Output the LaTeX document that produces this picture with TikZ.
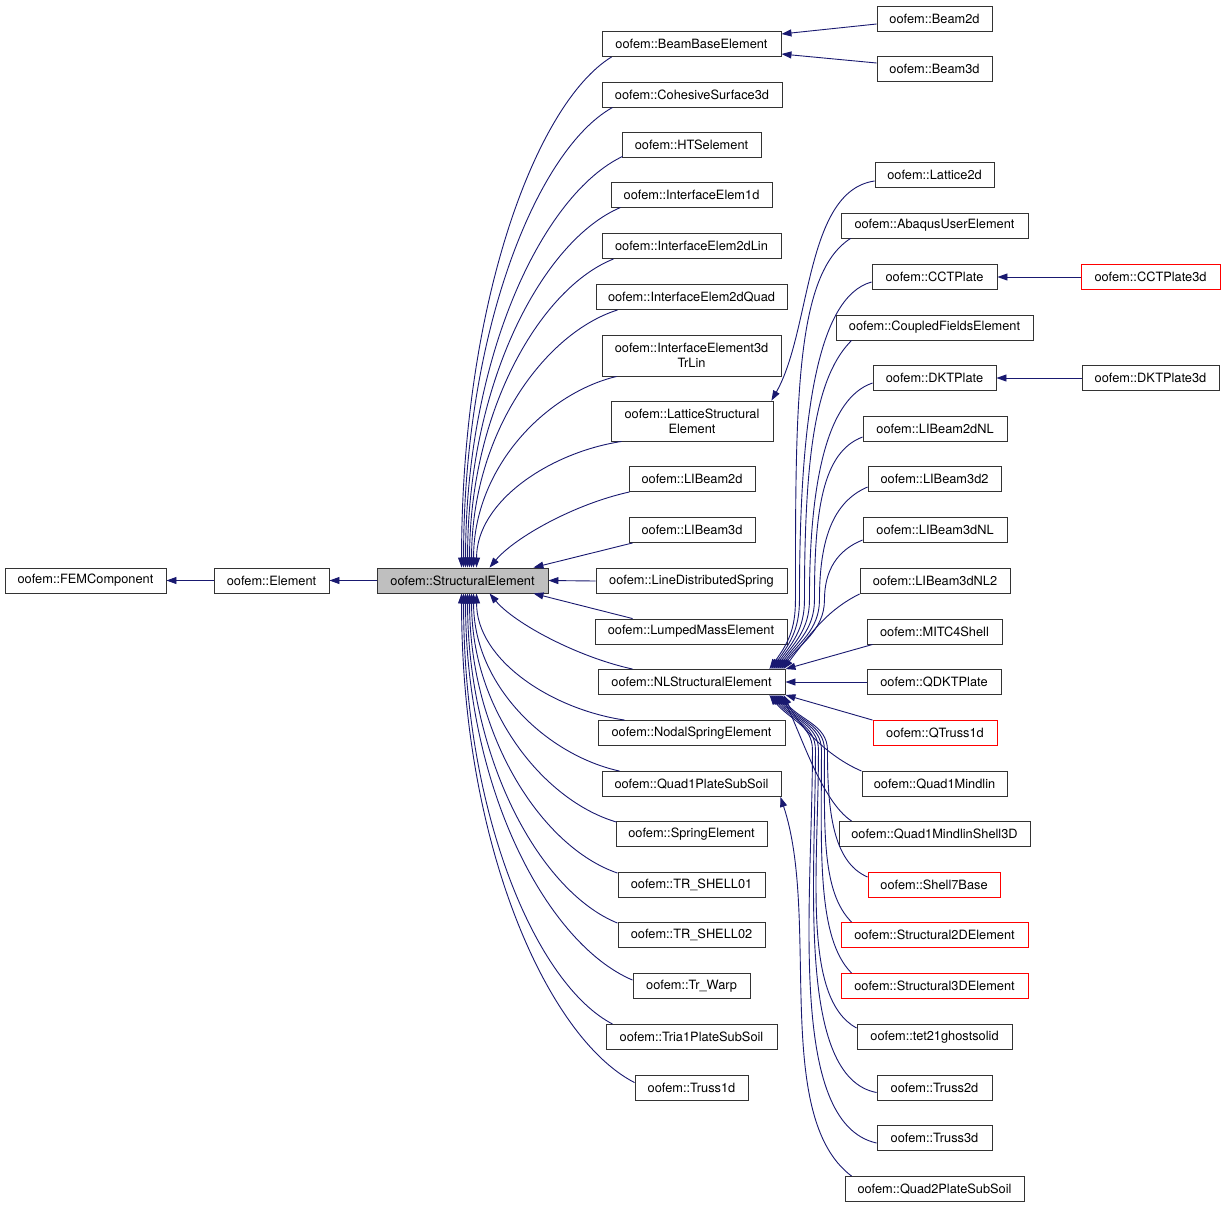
\documentclass[tikz,border=0pt]{standalone}
\usepackage{fontspec}
\setmainfont{TeX Gyre Heros}
\usetikzlibrary{arrows.meta,calc}
\definecolor{edgec}{HTML}{191970}
\definecolor{boxgray}{HTML}{BFBFBF}
\newcommand\mybox[5]{\node[box,minimum width=#4pt] (#1) at (#2,#3) {#5};}
\newcommand\myredbox[5]{\node[box,draw=red,minimum width=#4pt] (#1) at (#2,#3) {#5};}
\begin{document}
\begin{tikzpicture}[x=1pt,y=-1pt,
  box/.style={draw=black!80,line width=0.9pt,fill=white,inner sep=0pt,minimum height=25pt,
    font=\fontsize{12.8}{15}\selectfont,text=black,align=center},
  edge/.style={draw=edgec,line width=0.9pt,-{Triangle[length=10pt,width=7pt]}}]
\fill[white] (0,0) rectangle (1225,1208);
\useasboundingbox (0,0) rectangle (1225,1208);

% column 1
\mybox{fem}{85.5}{580.5}{161}{oofem::FEMComponent}
\mybox{elem}{271.5}{580.5}{115}{oofem::Element}
\node[box,fill=boxgray,minimum width=171pt] (se) at (462.5,580.5) {oofem::StructuralElement};

% column 3
\mybox{bbe}{691.5}{44}{179}{oofem::BeamBaseElement}
\mybox{coh}{692}{94.5}{180}{oofem::CohesiveSurface3d}
\mybox{hts}{691.5}{144.5}{139}{oofem::HTSelement}
\mybox{ie1d}{691.5}{194.5}{161}{oofem::InterfaceElem1d}
\mybox{ie2l}{691.5}{246}{179}{oofem::InterfaceElem2dLin}
\mybox{ie2q}{691.5}{297}{191}{oofem::InterfaceElem2dQuad}
\node[box,minimum width=179pt,minimum height=41pt] (ie3) at (691.5,355.5) {oofem::InterfaceElement3d\\TrLin};
\node[box,minimum width=162pt,minimum height=40pt] (lse) at (692,421) {oofem::LatticeStructural\\Element};
\mybox{lib2}{692}{479}{126}{oofem::LIBeam2d}
\mybox{lib3}{692}{530}{126}{oofem::LIBeam3d}
\mybox{lds}{691.5}{581}{191}{oofem::LineDistributedSpring}
\mybox{lme}{691}{631.5}{192}{oofem::LumpedMassElement}
\mybox{nl}{691.5}{682}{187}{oofem::NLStructuralElement}
\mybox{nse}{691.5}{733}{187}{oofem::NodalSpringElement}
\mybox{q1ps}{691.5}{784}{179}{oofem::Quad1PlateSubSoil}
\mybox{spr}{691.5}{834}{151}{oofem::SpringElement}
\mybox{tr1}{691.5}{885}{147}{oofem::TR\_SHELL01}
\mybox{tr2}{691.5}{935}{147}{oofem::TR\_SHELL02}
\mybox{trw}{691.5}{986}{117}{oofem::Tr\_Warp}
\mybox{t1ps}{691.5}{1037}{171}{oofem::Tria1PlateSubSoil}
\mybox{tru1}{691.5}{1087.5}{113}{oofem::Truss1d}

% column 4
\mybox{b2d}{934.5}{18.5}{115}{oofem::Beam2d}
\mybox{b3d}{934.5}{69}{115}{oofem::Beam3d}
\mybox{l2d}{934.5}{175}{119}{oofem::Lattice2d}
\mybox{aue}{934.5}{225.5}{187}{oofem::AbaqusUserElement}
\mybox{cct}{934.5}{277}{125}{oofem::CCTPlate}
\mybox{cfe}{934.5}{327.5}{197}{oofem::CoupledFieldsElement}
\mybox{dkt}{934.5}{378}{123}{oofem::DKTPlate}
\mybox{lbtwonl}{935}{429}{144}{oofem::LIBeam2dNL}
\mybox{lbthreetwo}{934.5}{479}{133}{oofem::LIBeam3d2}
\mybox{lbthreenl}{935}{530}{144}{oofem::LIBeam3dNL}
\mybox{lbthreenltwo}{935}{581}{150}{oofem::LIBeam3dNL2}
\mybox{mitc}{934.5}{631.5}{135}{oofem::MITC4Shell}
\mybox{qdkt}{934}{682}{134}{oofem::QDKTPlate}
\myredbox{qtr}{935}{733}{124}{oofem::QTruss1d}
\mybox{qom}{934.5}{784}{145}{oofem::Quad1Mindlin}
\mybox{qoms}{934.5}{834}{191}{oofem::Quad1MindlinShell3D}
\myredbox{ssb}{934}{885}{132}{oofem::Shell7Base}
\myredbox{stwo}{934.5}{935}{187}{oofem::Structural2DElement}
\myredbox{sthree}{934.5}{986}{187}{oofem::Structural3DElement}
\mybox{tet}{934.5}{1037}{155}{oofem::tet21ghostsolid}
\mybox{trtwo}{934.5}{1087.5}{115}{oofem::Truss2d}
\mybox{trthree}{934.5}{1138}{115}{oofem::Truss3d}
\mybox{qtps}{934.5}{1189}{179}{oofem::Quad2PlateSubSoil}

% column 5
\myredbox{cctt}{1150.5}{277}{139}{oofem::CCTPlate3d}
\mybox{dktt}{1150.5}{378}{137}{oofem::DKTPlate3d}

% straight edges
\draw[edge] (elem.west) -- (fem.east);
\draw[edge] (se.west) -- (elem.east);
\draw[edge] (lds.west) -- (se.east);
\draw[edge] (qdkt.west) -- (nl.east);
\draw[edge] (cctt.west) -- (cct.east);
\draw[edge] (dktt.west) -- (dkt.east);
\draw[edge] ($(b2d.west)+(0,5.5)$) -- ($(bbe.east)+(0,-10)$);
\draw[edge] ($(b3d.west)+(0,-6)$) -- ($(bbe.east)+(0,10)$);

% StructuralElement, upper children
\draw[edge] ($(bbe.south west)+(10,0)$) .. controls +(-75,46) and +(0,-266) .. ($(se.north west)+(85,0)$);
\draw[edge] ($(coh.south west)+(11,0)$) .. controls +(-74,41) and +(0,-240) .. ($(se.north west)+(87,0)$);
\draw[edge] ($(hts.south west)+(1,-1)$) .. controls +(-78,37) and +(0,-215) .. ($(se.north west)+(89,0)$);
\draw[edge] ($(ie1d.south west)+(10,0)$) .. controls +(-76,32) and +(0,-188) .. ($(se.north west)+(91,0)$);
\draw[edge] ($(ie2l.south west)+(12,0)$) .. controls +(-71,28) and +(0,-160) .. ($(se.north west)+(93,0)$);
\draw[edge] ($(ie2q.south west)+(22,0)$) .. controls +(-73,23) and +(0,-134) .. ($(se.north west)+(95,0)$);
\draw[edge] ($(ie3.south west)+(15,0)$) .. controls +(-71,17) and +(0,-100) .. ($(se.north west)+(97,0)$);
\draw[edge] ($(lse.south west)+(11,0)$) .. controls +(-72,11) and +(0,-66) .. ($(se.north west)+(100,0)$);
\draw[edge] ($(lib2.south west)+(1,0)$) .. controls +(-55,12) and +(25,-30) .. ($(se.north west)+(113,0)$);
\draw[edge] ($(lib3.south west)+(4,0)$) -- ($(se.north east)+(-15,0)$);

% StructuralElement, lower children
\draw[edge] ($(lme.north west)+(38,0)$) -- ($(se.south east)+(-15,0)$);
\draw[edge] ($(nl.north west)+(35,0)$) .. controls +(-55,-12) and +(25,30) .. ($(se.south west)+(113,0)$);
\draw[edge] ($(nse.north west)+(27,0)$) .. controls +(-74,-11) and +(0,66) .. ($(se.south west)+(100,0)$);
\draw[edge] ($(q1ps.north west)+(18,0)$) .. controls +(-73,-16) and +(0,92) .. ($(se.south west)+(97,0)$);
\draw[edge] ($(spr.north west)+(1,1)$) .. controls +(-72,-21) and +(0,118) .. ($(se.south west)+(95,0)$);
\draw[edge] ($(tr1.north west)+(0,1)$) .. controls +(-74,-25) and +(0,145) .. ($(se.south west)+(93,0)$);
\draw[edge] ($(tr2.north west)+(0,1)$) .. controls +(-75,-30) and +(0,170) .. ($(se.south west)+(91,0)$);
\draw[edge] ($(trw.north west)+(0,7)$) .. controls +(-83,-35) and +(0,200) .. ($(se.south west)+(89,0)$);
\draw[edge] ($(t1ps.north west)+(7,0)$) .. controls +(-75,-39) and +(0,224) .. ($(se.south west)+(87,0)$);
\draw[edge] ($(tru1.north west)+(0,8)$) .. controls +(-86,-44) and +(0,254) .. ($(se.south west)+(85,0)$);

% LatticeStructuralElement
\draw[edge] ($(l2d.west)+(0,6)$) .. controls +(-70,10) and +(40,-70) .. ($(lse.north east)+(-2,0)$);

% NLStructuralElement, upper children
\draw[edge] ($(aue.south west)+(10,0)$) .. controls +(-55,35) and +(0,-200) .. ($(nl.north east)+(10,-69)$)
   .. controls +(0,30) and +(18,-25) .. ($(nl.north east)+(-16,0)$);
\draw[edge] ($(cct.west)+(0,5)$) .. controls +(-55,15) and +(0,-180) .. ($(nl.north east)+(14,-69)$)
   .. controls +(0,30) and +(18,-25) .. ($(nl.north east)+(-14,0)$);
\draw[edge] ($(cfe.south west)+(16,0)$) .. controls +(-35,35) and +(0,-150) .. ($(nl.north east)+(19,-69)$)
   .. controls +(0,30) and +(18,-25) .. ($(nl.north east)+(-12,0)$);
\draw[edge] ($(dkt.west)+(0,5)$) .. controls +(-45,15) and +(0,-120) .. ($(nl.north east)+(24,-69)$)
   .. controls +(0,30) and +(18,-25) .. ($(nl.north east)+(-10,0)$);
\draw[edge] ($(lbtwonl.west)+(0,8)$) .. controls +(-40,15) and +(0,-90) .. ($(nl.north east)+(29,-69)$)
   .. controls +(0,30) and +(18,-25) .. ($(nl.north east)+(-8,0)$);
\draw[edge] ($(lbthreetwo.west)+(0,8)$) .. controls +(-35,15) and +(0,-60) .. ($(nl.north east)+(34,-69)$)
   .. controls +(0,30) and +(18,-25) .. ($(nl.north east)+(-6,0)$);
\draw[edge] ($(lbthreenl.west)+(0,10)$) .. controls +(-25,10) and +(0,-30) .. ($(nl.north east)+(39,-69)$)
   .. controls +(0,30) and +(18,-25) .. ($(nl.north east)+(-4,0)$);
\draw[edge] (lbthreenltwo.south west) .. controls +(-30,15) and +(30,-40) .. ($(nl.north east)+(-2,0)$);
\draw[edge] ($(mitc.south west)+(6,0)$) -- (nl.north east);

% NLStructuralElement, lower children
\draw[edge] (qtr.north west) -- (nl.south east);
\draw[edge] (qom.north west) .. controls +(-35,-15) and +(15,30) .. ($(nl.south east)+(-2,0)$);
\draw[edge] ($(qoms.north west)+(13,0)$) .. controls +(-30,-20) and +(20,40) .. ($(nl.south east)+(-4,0)$);
\draw[edge] ($(ssb.west)+(0,-8)$) .. controls +(-35,-15) and +(0,60) .. ($(nl.south east)+(42,55)$)
   .. controls +(0,-25) and +(20,25) .. ($(nl.south east)+(-6,0)$);
\draw[edge] ($(stwo.north west)+(11,0)$) .. controls +(-30,-30) and +(0,80) .. ($(nl.south east)+(39,55)$)
   .. controls +(0,-25) and +(20,25) .. ($(nl.south east)+(-8,0)$);
\draw[edge] ($(sthree.north west)+(11,0)$) .. controls +(-35,-35) and +(0,100) .. ($(nl.south east)+(36,55)$)
   .. controls +(0,-25) and +(20,25) .. ($(nl.south east)+(-10,0)$);
\draw[edge] ($(tet.north west)+(0,4)$) .. controls +(-55,-30) and +(0,120) .. ($(nl.south east)+(33,55)$)
   .. controls +(0,-25) and +(20,25) .. ($(nl.south east)+(-12,0)$);
\draw[edge] ($(trtwo.west)+(0,5)$) .. controls +(-80,-15) and +(0,130) .. ($(nl.south east)+(30,55)$)
   .. controls +(0,-25) and +(20,25) .. ($(nl.south east)+(-14,0)$);
\draw[edge] ($(trthree.west)+(0,5)$) .. controls +(-90,-20) and +(0,150) .. ($(nl.south east)+(27,55)$)
   .. controls +(0,-25) and +(20,25) .. ($(nl.south east)+(-16,0)$);

% Quad1PlateSubSoil
\draw[edge] ($(qtps.north west)+(7,0)$) .. controls +(-80,-60) and +(40,120) .. ($(q1ps.south east)+(-1,0)$);
\end{tikzpicture}
\end{document}
